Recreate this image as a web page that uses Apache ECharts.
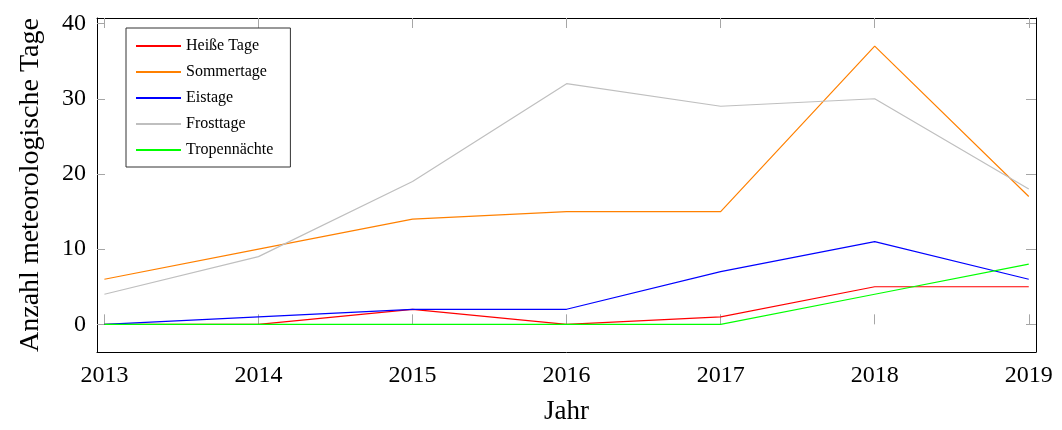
<!DOCTYPE html>
<html>
<head>
<meta charset="utf-8">
<script src="https://cdn.jsdelivr.net/npm/echarts@6/dist/echarts.min.js"></script>
<style>
  html, body { margin: 0; padding: 0; background: #fff; }
  #chart { width: 1062px; height: 430px; }
</style>
</head>
<body>
<div id="chart"></div>
<script>
// Years on the horizontal axis
const years = [2013, 2014, 2015, 2016, 2017, 2018, 2019];
// Tick values on the vertical axis
const yTicks = [0, 10, 20, 30, 40];

// Counts of meteorological day types per year
const heisseTage    = [0, 0, 2, 0, 1, 5, 5];
const sommertage    = [6, 10, 14, 15, 15, 37, 17];
const eistage       = [0, 1, 2, 2, 7, 11, 6];
const frosttage     = [4, 9, 19, 32, 29, 30, 18];
const tropennaechte = [0, 0, 0, 0, 0, 4, 8];

const seriesNames  = ['Heiße Tage', 'Sommertage', 'Eistage', 'Frosttage', 'Tropennächte'];
const seriesData   = [heisseTage, sommertage, eistage, frosttage, tropennaechte];
const seriesColors = ['#ff0000', '#ff8000', '#0000ff', '#bfbfbf', '#00ff00'];

const serif = '"Liberation Serif", "DejaVu Serif", serif';
const tickColor = '#a6a6a6';

// Plot box: the data range enlarged a little on every side
const box = { left: 97, right: 26, top: 18, bottom: 78 };
const xMin = 2012.952, xMax = 2019.047;
const yMin = -3.68, yMax = 40.74;

// Pixel helpers so the tick frames line up with the plot box
const W = 1062, H = 430;
const plotW = W - box.left - box.right, plotH = H - box.top - box.bottom;
const xPx = v => box.left + (v - xMin) / (xMax - xMin) * plotW;
const yPx = v => box.top + (yMax - v) / (yMax - yMin) * plotH;

const xFirst = years[0], xLast = years[years.length - 1];
const yFirst = yTicks[0], yLast = yTicks[yTicks.length - 1];

const chart = echarts.init(document.getElementById('chart'), null, { renderer: 'canvas' });

const boxLine = { show: true, onZero: false, lineStyle: { color: '#000', width: 1 } };
const noAxisLine = { show: false };

chart.setOption({
  animation: false,
  backgroundColor: '#fff',
  grid: [
    // 0: plot box with the data
    Object.assign({ containLabel: false }, box),
    // 1: frame spanning first to last year, for the horizontal ticks
    { left: xPx(xFirst), right: W - xPx(xLast), top: box.top, bottom: box.bottom },
    // 2: frame spanning 0 to 40, for the vertical ticks
    { left: box.left, right: box.right, top: yPx(yLast), bottom: H - yPx(yFirst) }
  ],
  legend: {
    orient: 'vertical',
    left: 126, top: 28,
    data: seriesNames,
    itemWidth: 45, itemHeight: 14, itemGap: 10,
    itemStyle: { opacity: 0 },
    padding: [10, 17, 9, 9],
    borderColor: '#333', borderWidth: 1,
    backgroundColor: '#fff',
    textStyle: { fontFamily: serif, fontSize: 16, color: '#000' }
  },
  xAxis: [
    { gridIndex: 0, type: 'value', min: xMin, max: xMax, position: 'bottom',
      axisLine: boxLine, axisTick: { show: false }, axisLabel: { show: false }, splitLine: { show: false },
      name: 'Jahr', nameLocation: 'middle', nameGap: 46,
      nameTextStyle: { fontFamily: serif, fontSize: 27, color: '#000' } },
    { gridIndex: 0, type: 'value', min: xMin, max: xMax, position: 'top',
      axisLine: boxLine, axisTick: { show: false }, axisLabel: { show: false }, splitLine: { show: false } },
    { gridIndex: 1, type: 'value', min: xFirst, max: xLast, interval: 1, position: 'bottom',
      axisLine: noAxisLine, splitLine: { show: false },
      axisTick: { show: true, inside: true, length: 10, lineStyle: { color: tickColor, width: 1 } },
      axisLabel: { show: true, margin: 12, fontFamily: serif, fontSize: 24, color: '#000',
                   formatter: v => String(v) } },
    { gridIndex: 1, type: 'value', min: xFirst, max: xLast, interval: 1, position: 'top',
      axisLine: noAxisLine, splitLine: { show: false }, axisLabel: { show: false },
      axisTick: { show: true, inside: true, length: 10, lineStyle: { color: tickColor, width: 1 } } },
    { gridIndex: 2, type: 'value', min: xMin, max: xMax, show: false }
  ],
  yAxis: [
    { gridIndex: 0, type: 'value', min: yMin, max: yMax, position: 'left',
      axisLine: boxLine, axisTick: { show: false }, axisLabel: { show: false }, splitLine: { show: false },
      name: 'Anzahl meteorologische Tage', nameLocation: 'middle', nameGap: 52,
      nameTextStyle: { fontFamily: serif, fontSize: 28, color: '#000' } },
    { gridIndex: 0, type: 'value', min: yMin, max: yMax, position: 'right',
      axisLine: boxLine, axisTick: { show: false }, axisLabel: { show: false }, splitLine: { show: false } },
    { gridIndex: 1, type: 'value', min: yMin, max: yMax, show: false },
    { gridIndex: 2, type: 'value', min: yFirst, max: yLast, interval: 10, position: 'left',
      axisLine: noAxisLine, splitLine: { show: false },
      axisTick: { show: true, inside: true, length: 8, lineStyle: { color: tickColor, width: 1 } },
      axisLabel: { show: true, margin: 11, fontFamily: serif, fontSize: 24, color: '#000' } },
    { gridIndex: 2, type: 'value', min: yFirst, max: yLast, interval: 10, position: 'right',
      axisLine: noAxisLine, splitLine: { show: false }, axisLabel: { show: false },
      axisTick: { show: true, inside: true, length: 10, lineStyle: { color: tickColor, width: 1 } } }
  ],
  series: seriesNames.map((name, i) => ({
    name,
    type: 'line',
    xAxisIndex: 0, yAxisIndex: 0,
    data: years.map((y, j) => [y, seriesData[i][j]]),
    symbol: 'none',
    color: seriesColors[i],
    lineStyle: { color: seriesColors[i], width: 1.2 },
    z: 2 + i
  }))
});
</script>
</body>
</html>
